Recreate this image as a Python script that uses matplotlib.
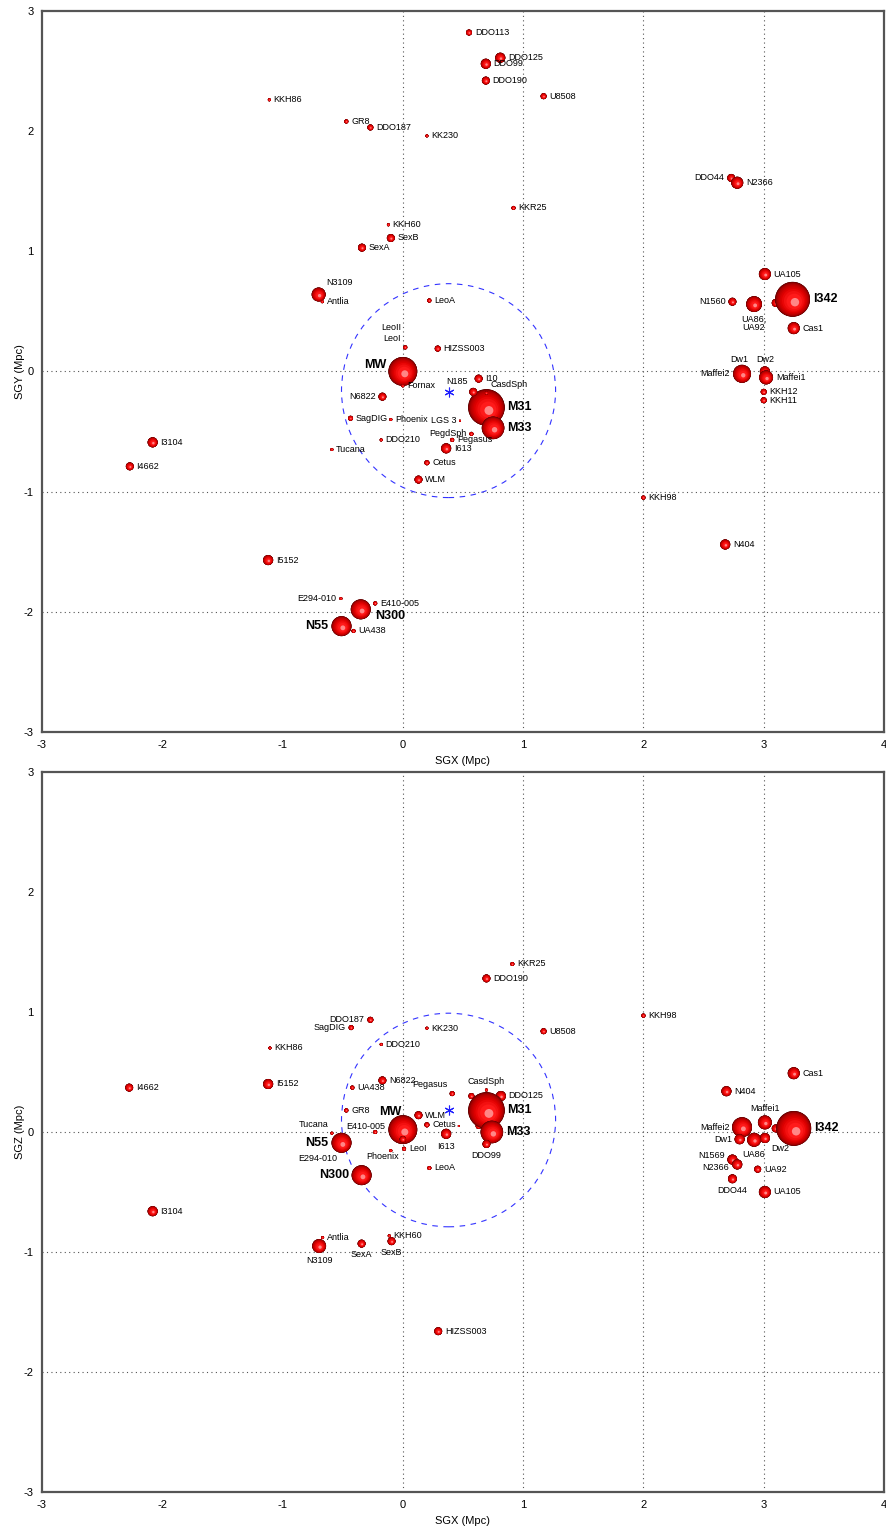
import numpy as np
import matplotlib
matplotlib.use('Agg')
import matplotlib.pyplot as plt
from matplotlib.patches import Circle
from matplotlib.colors import LinearSegmentedColormap
from matplotlib import font_manager

# ---- supergalactic X-Y view ----
xy_names = ['DDO113', 'DDO99', 'DDO125', 'DDO190', 'U8508', 'KKH86', 'GR8', 'DDO187',
            'KK230', 'KKR25', 'KKH60', 'SexB', 'SexA', 'N3109', 'Antlia', 'LeoA',
            'LeoII', 'LeoI', 'HIZSS003', 'MW', 'Fornax', 'N6822', 'I10', 'M31',
            'N185', 'CasdSph', 'M33', 'SagDIG', 'Phoenix', 'LGS 3', 'PegdSph',
            'Pegasus', 'DDO210', 'I613', 'Tucana', 'Cetus', 'WLM', 'DDO44', 'N2366',
            'UA105', '', 'I342', 'N1560', 'UA92', 'UA86,', 'Cas1', 'Dw1', 'Maffei2',
            'Dw2', 'Maffei1', 'KKH12', 'KKH11', 'I4662', 'I3104', 'I5152',
            'E294-010', 'E410-005', 'N300', 'N55', 'UA438', 'KKH98', 'N404']
xy_sgx = [0.55, 0.69, 0.81, 0.69, 1.17, -1.11, -0.47, -0.27,
          0.20, 0.92, -0.12, -0.10, -0.34, -0.70, -0.67, 0.22,
          0.02, 0.02, 0.29, 0.0, 0.0, -0.17, 0.63, 0.695,
          0.585, 0.695, 0.75, -0.435, -0.10, 0.475, 0.57,
          0.41, -0.18, 0.36, -0.59, 0.20, 0.13, 2.73, 2.78,
          3.01, 3.10, 3.24, 2.74, 2.92, 2.92, 3.25, 2.80, 2.82,
          3.01, 3.02, 3.00, 3.00, -2.27, -2.08, -1.12,
          -0.515, -0.23, -0.35, -0.51, -0.41, 2.00, 2.68]
xy_sgy = [2.82, 2.56, 2.61, 2.42, 2.29, 2.26, 2.08, 2.03,
          1.96, 1.36, 1.22, 1.11, 1.03, 0.64, 0.58, 0.59,
          0.20, 0.20, 0.19, 0.0, -0.12, -0.21, -0.06, -0.30,
          -0.17, -0.18, -0.47, -0.39, -0.40, -0.41, -0.52,
          -0.57, -0.57, -0.64, -0.65, -0.76, -0.90, 1.61, 1.57,
          0.81, 0.57, 0.60, 0.58, 0.56, 0.56, 0.36, 0.0, -0.02,
          0.0, -0.05, -0.17, -0.24, -0.79, -0.59, -1.57,
          -1.89, -1.93, -1.98, -2.12, -2.16, -1.05, -1.44]
# ball radius (Mpc, display size)
xy_rad = [0.025, 0.042, 0.042, 0.033, 0.025, 0.0125, 0.017, 0.025,
          0.0125, 0.017, 0.0125, 0.033, 0.033, 0.058, 0.0125, 0.017,
          0.0125, 0.017, 0.025, 0.12, 0.0125, 0.033, 0.033, 0.152,
          0.033, 0.0125, 0.094, 0.021, 0.0125, 0.008, 0.017,
          0.017, 0.0125, 0.042, 0.0125, 0.021, 0.033, 0.033, 0.05,
          0.05, 0.033, 0.145, 0.033, 0.029, 0.066, 0.05, 0.042, 0.075,
          0.042, 0.058, 0.025, 0.025, 0.033, 0.042, 0.042,
          0.0125, 0.017, 0.083, 0.083, 0.017, 0.017, 0.042]
xy_bary = (0.38, -0.17)
xy_ring = (0.38, -0.16)

# ---- supergalactic X-Z view ----
xz_names = ['KKR25', 'DDO190', 'U8508', 'KK230', 'DDO187', 'SagDIG', 'DDO210', 'KKH86',
            'KKH98', 'I4662', 'I5152', 'UA438', 'N6822', 'GR8', 'Pegasus', '',
            'DDO125', '', '', 'M31', 'CasdSph', 'M33', 'DDO99', 'WLM', 'Cetus', 'I613',
            'LeoA', 'MW', '', 'LeoI', 'Phoenix', 'E410-005', 'Tucana', 'E294-010',
            'N55', 'N300', 'I3104', 'Antlia', 'N3109', 'SexA', 'KKH60', 'SexB',
            'HIZSS003', 'Cas1', 'N404', 'Maffei1', 'Maffei2', '', 'I342', 'Dw1',
            'Dw2', 'UA86', 'N1569', 'N2366', 'UA92', 'DDO44', 'UA105']
xz_sgx = [0.91, 0.695, 1.17, 0.20, -0.27, -0.43, -0.18, -1.105,
          2.00, -2.275, -1.12, -0.42, -0.17, -0.47, 0.41, 0.57,
          0.815, 0.63, 0.465, 0.695, 0.695, 0.74, 0.695, 0.13, 0.20, 0.36,
          0.22, 0.0, 0.0, 0.01, -0.10, -0.23, -0.59, -0.515,
          -0.51, -0.343, -2.08, -0.667, -0.696, -0.343, -0.113, -0.094,
          0.294, 3.25, 2.69, 3.01, 2.82, 3.10, 3.25, 2.80,
          3.01, 2.92, 2.74, 2.78, 2.95, 2.74, 3.01]
xz_sgz = [1.40, 1.28, 0.84, 0.865, 0.935, 0.87, 0.73, 0.70,
          0.97, 0.37, 0.40, 0.37, 0.43, 0.18, 0.32, 0.30,
          0.30, 0.05, 0.05, 0.18, 0.35, 0.0, -0.10, 0.14, 0.06, -0.015,
          -0.30, 0.02, -0.06, -0.14, -0.155, 0.0, -0.01, -0.15,
          -0.09, -0.36, -0.66, -0.88, -0.95, -0.93, -0.865, -0.91,
          -1.66, 0.49, 0.34, 0.08, 0.04, 0.03, 0.03, -0.06,
          -0.05, -0.065, -0.23, -0.27, -0.31, -0.39, -0.50]
xz_rad = [0.017, 0.033, 0.025, 0.0125, 0.025, 0.021, 0.0125, 0.0125,
          0.017, 0.033, 0.042, 0.017, 0.033, 0.017, 0.021, 0.025,
          0.042, 0.025, 0.008, 0.152, 0.0125, 0.094, 0.033, 0.033, 0.021, 0.042,
          0.017, 0.12, 0.027, 0.017, 0.0125, 0.017, 0.0125, 0.0125,
          0.083, 0.083, 0.042, 0.0125, 0.058, 0.033, 0.0125, 0.033,
          0.033, 0.05, 0.042, 0.058, 0.083, 0.033, 0.145, 0.042,
          0.042, 0.058, 0.042, 0.042, 0.029, 0.037, 0.05]
xz_bary = (0.38, 0.18)
xz_ring = (0.38, 0.10)

big_names = ['MW', 'M31', 'M33', 'N55', 'N300', 'I342']
lg_radius = 0.89

# label placement per view (default: right of the ball)
xy_where = {'N3109': 'ur', 'LeoII': 'ul2', 'LeoI': 'ul', 'MW': (-11.5, 4.8, 'right', 'center'),
            'N6822': 'l', 'N185': 'ul', 'CasdSph': 'ur', 'LGS 3': 'l', 'PegdSph': 'l',
            'DDO44': 'l', 'N1560': 'l', 'UA92': 'b2', 'UA86,': 'b', 'Dw1': 'a',
            'Maffei2': 'l', 'Dw2': 'a', 'E294-010': 'l', 'N55': 'l',
            'N300': (10, -5, 'left', 'center')}
xz_where = {'DDO187': 'l', 'SagDIG': 'l', 'Pegasus': 'ul', 'CasdSph': 'a', 'DDO99': 'b',
            'I613': 'b', 'MW': (-0.7, 12.7, 'right', 'center'),
            'Phoenix': (-6, -4, 'center', 'center'), 'E410-005': (-6.5, 3.6, 'center', 'center'),
            'Tucana': 'ul', 'E294-010': 'bl', 'N55': 'l', 'N300': 'l', 'N3109': 'b',
            'SexA': 'b', 'SexB': 'b', 'Maffei1': 'a', 'Maffei2': 'l', 'Dw1': 'l',
            'Dw2': 'br', 'UA86': 'b', 'N1569': 'lu', 'N2366': 'ld', 'DDO44': 'b'}

avail = {f.name for f in font_manager.fontManager.ttflist}
font = 'Liberation Sans Narrow' if 'Liberation Sans Narrow' in avail else 'Liberation Sans'
plt.rcParams['font.family'] = font
plt.rcParams['axes.unicode_minus'] = False

ball_cmap = LinearSegmentedColormap.from_list(
    'ball', [(0.0, '#4a0000'), (0.35, '#a00000'), (0.7, '#e00000'),
             (0.9, '#ff1a1a'), (1.0, '#ffb0b0')])

fig = plt.figure(figsize=(8.86, 15.29), dpi=100)
ax1 = fig.add_axes([0.0474, 0.5213, 0.9503, 0.4716])
ax2 = fig.add_axes([0.0474, 0.0242, 0.9503, 0.4709])

pt_per_mpc = 0.9503 * 8.86 * 72 / 7.0


def ball(ax, x, y, r, z):
    levels = np.linspace(0.0, 0.97, 14)
    for k, lev in enumerate(levels):
        rr = r * np.sqrt(1 - lev ** 2)
        s = 1 - rr / r
        ax.add_patch(Circle((x + 0.18 * r * s, y - 0.22 * r * s), rr,
                            fc=ball_cmap(lev), ec='none', zorder=z + k * 1e-4))


def label(ax, name, x, y, r, where):
    rp = r * pt_per_mpc
    g = 2.0
    d = 0.7 * rp + g
    spots = {'r': (rp + g, 0, 'left', 'center'),
             'l': (-rp - g, 0, 'right', 'center'),
             'lu': (-rp - g, 3, 'right', 'center'),
             'ld': (-rp - g, -2.5, 'right', 'center'),
             'a': (0, rp + g, 'center', 'bottom'),
             'b': (0, -rp - g, 'center', 'top'),
             'b2': (0, -rp - g - 9, 'center', 'top'),
             'ul': (-d, d, 'right', 'bottom'),
             'ul2': (-d, d + 8, 'right', 'bottom'),
             'ur': (d, d, 'left', 'bottom'),
             'bl': (-d, -d, 'right', 'top'),
             'br': (d, -d, 'left', 'top')}
    dx, dy, ha, va = spots[where] if isinstance(where, str) else where
    big = name in big_names
    ax.annotate(name, (x, y), xytext=(dx, dy), textcoords='offset points',
                ha=ha, va=va, fontsize=9 if big else 6.5,
                fontweight='bold' if big else 'normal', color='black', zorder=50)


def panel(ax, names, gx, gy, rad, where, bary, ring, ylab):
    ax.set_xlim(-3, 4)
    ax.set_ylim(-3, 3)
    for v in [0, 1, 2, 3]:
        ax.axvline(v, color='#555555', ls=(0, (1, 3)), lw=0.8, zorder=1)
    for v in [0, -1, -2]:
        ax.axhline(v, color='#555555', ls=(0, (1, 3)), lw=0.8, zorder=1)
    # Local Group boundary and barycentre
    ax.add_patch(Circle(ring, lg_radius, fill=False, ec='#3333ff', lw=0.8,
                        ls=(0, (5, 5)), zorder=2))
    ax.plot(*bary, marker=(6, 2, 0), ms=7, mew=0.8, color='#2020ff', zorder=2)
    for i, (n, x, y, r) in enumerate(zip(names, gx, gy, rad)):
        ball(ax, x, y, r, 3 + i * 0.01)
        if n:
            label(ax, n, x, y, r, where.get(n, 'r'))
    ax.set_xticks(range(-3, 5))
    ax.set_yticks(range(-3, 4))
    ax.tick_params(length=0, labelsize=8, pad=6)
    for s in ax.spines.values():
        s.set_color('#555555')
        s.set_linewidth(1.6)
    ax.set_xlabel('SGX (Mpc)', fontsize=8, labelpad=4)
    ax.set_ylabel(ylab, fontsize=8, labelpad=-1)


panel(ax1, xy_names, xy_sgx, xy_sgy, xy_rad, xy_where, xy_bary, xy_ring, 'SGY (Mpc)')
panel(ax2, xz_names, xz_sgx, xz_sgz, xz_rad, xz_where, xz_bary, xz_ring, 'SGZ (Mpc)')

fig.savefig('out.png', dpi=100)
